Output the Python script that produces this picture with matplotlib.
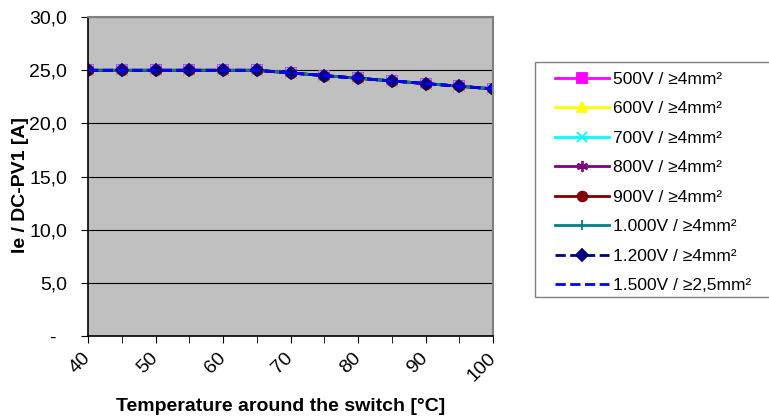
import numpy as np
import matplotlib.pyplot as plt
from matplotlib.patches import Rectangle
from matplotlib.ticker import FuncFormatter, MultipleLocator

plt.rcParams['font.family'] = ['Liberation Sans', 'DejaVu Sans']

# data: every series lies on the same curve
temps = [40, 45, 50, 55, 60, 65, 70, 75, 80, 85, 90, 95, 100]
current = [25.0, 25.0, 25.0, 25.0, 25.0, 25.0, 24.75, 24.5, 24.25, 24.0, 23.75, 23.5, 23.25]
labels = ["500V / ≥4mm²", "600V / ≥4mm²", "700V / ≥4mm²", "800V / ≥4mm²",
          "900V / ≥4mm²", "1.000V / ≥4mm²", "1.200V / ≥4mm²", "1.500V / ≥2,5mm²"]
series = {lab: current for lab in labels}

styles = [
    dict(color="#FF00FF", marker="s", ls="-", ms=7),
    dict(color="#FFFF00", marker="^", ls="-", ms=7),
    dict(color="#00FFFF", marker="x", ls="-", ms=7),
    dict(color="#800080", marker=(6, 2, 0), ls="-", ms=8),
    dict(color="#800000", marker="o", ls="-", ms=7),
    dict(color="#008080", marker="|", ls="-", ms=7),
    dict(color="#000080", marker="D", ls="--", ms=6.5),
    dict(color="#0000FF", marker="", ls="--", ms=6),
]

fig = plt.figure(figsize=(7.69, 4.18), dpi=100)
ax = fig.add_axes([0.1144, 0.196, 0.527, 0.763])
ax.set_facecolor("#C0C0C0")

for (lab, vals), st in zip(series.items(), styles):
    ax.plot(temps, vals, label=lab, lw=2, mew=1.3, **st)

ax.set_xlim(40, 100)
ax.set_ylim(0, 30)
ax.yaxis.set_major_locator(MultipleLocator(5))
ax.xaxis.set_major_locator(MultipleLocator(10))
ax.xaxis.set_minor_locator(MultipleLocator(5))
ax.yaxis.set_major_formatter(FuncFormatter(
    lambda v, p: "-  " if v == 0 else f"{v:.1f}".replace(".", ",")))
ax.grid(axis="y", color="black", lw=0.8)
ax.set_axisbelow(True)

for s in ["top", "right"]:
    ax.spines[s].set_color("#808080")
    ax.spines[s].set_linewidth(1.5)
for s in ["left", "bottom"]:
    ax.spines[s].set_color("black")
    ax.spines[s].set_linewidth(1.2)

ax.tick_params(axis="both", which="both", direction="out", length=5, labelsize=14)
ax.tick_params(axis="y", which="major", pad=10)
ax.tick_params(axis="x", which="major", pad=9)
for t in ax.get_xticklabels():
    t.set_rotation(45)
    t.set_rotation_mode("anchor")
    t.set_ha("right")
    t.set_va("center")

ax.set_xlabel("Temperature around the switch [°C]", fontsize=14,
              fontweight="bold")
ax.xaxis.set_label_coords(0.475, -0.195)
ax.set_ylabel("Ie / DC-PV1 [A]", fontsize=14, fontweight="bold")
ax.yaxis.set_label_coords(-0.145, 0.473)

# legend frame drawn separately (excel box has uneven padding)
fig.patches.append(Rectangle((0.6957, 0.2895), 0.31, 0.562, transform=fig.transFigure,
                             facecolor="white", edgecolor="#808080", lw=1, zorder=0))
leg = fig.legend(loc="center left", bbox_to_anchor=(0.7217, 0.5634), fontsize=12.5,
                 frameon=False, handlelength=3.1, labelspacing=0.825, borderpad=0,
                 handletextpad=0.25, borderaxespad=0)

fig.savefig("out.png", dpi=100)
